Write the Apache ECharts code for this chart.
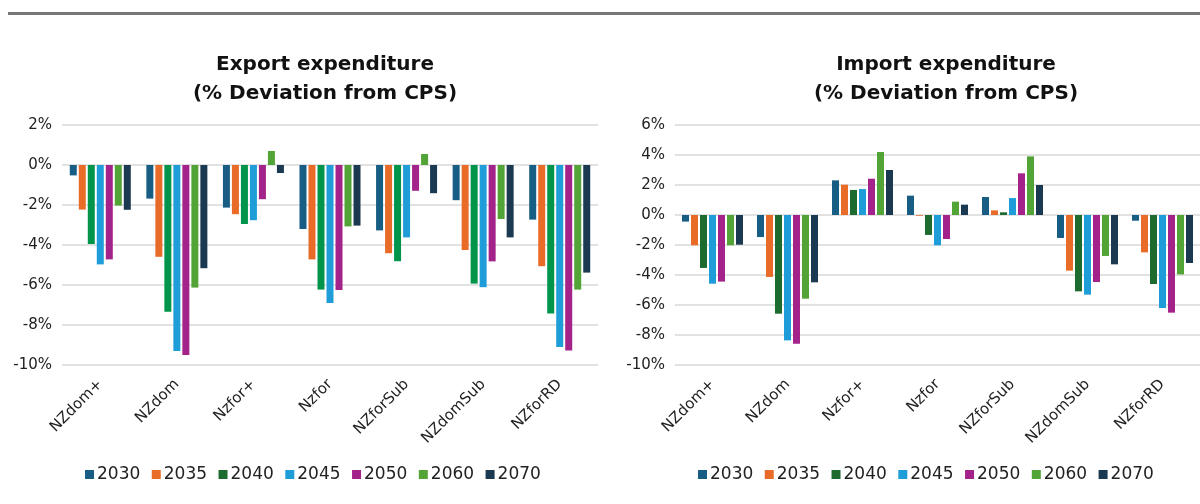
<!DOCTYPE html>
<html><head><meta charset="utf-8">
<script src="https://cdn.jsdelivr.net/npm/echarts@6/dist/echarts.min.js"></script>
<style>html,body{margin:0;padding:0;background:#fff}#c{width:1200px;height:504px}</style>
</head><body><div id="c"></div>
<script>
const categories = ['NZdom+','NZdom','Nzfor+','Nzfor','NZforSub','NZdomSub','NZforRD'];
const years = ['2030','2035','2040','2045','2050','2060','2070'];

// Export expenditure (% deviation from CPS), one array per year, values per category
const export2030 = [-0.52,-1.68,-2.13,-3.20,-3.27,-1.76,-2.73];
const export2035 = [-2.23,-4.59,-2.46,-4.72,-4.41,-4.25,-5.06];
const export2040 = [-3.95,-7.34,-2.95,-6.23,-4.81,-5.93,-7.42];
const export2045 = [-4.97,-9.30,-2.76,-6.90,-3.62,-6.11,-9.10];
const export2050 = [-4.72,-9.50,-1.71,-6.25,-1.29,-4.82,-9.28];
const export2060 = [-2.03,-6.13,0.70,-3.07,0.55,-2.70,-6.23];
const export2070 = [-2.24,-5.16,-0.40,-3.03,-1.41,-3.62,-5.38];

// Import expenditure (% deviation from CPS)
const import2030 = [-0.44,-1.47,2.31,1.29,1.20,-1.53,-0.38];
const import2035 = [-2.02,-4.13,2.02,-0.05,0.31,-3.71,-2.49];
const import2040 = [-3.53,-6.58,1.67,-1.33,0.18,-5.09,-4.60];
const import2045 = [-4.58,-8.36,1.73,-2.02,1.13,-5.31,-6.20];
const import2050 = [-4.44,-8.58,2.42,-1.60,2.78,-4.47,-6.51];
const import2060 = [-2.02,-5.58,4.20,0.89,3.91,-2.73,-3.96];
const import2070 = [-1.98,-4.49,3.00,0.69,2.00,-3.29,-3.20];

// Axis ticks
const exportTicks = {min: -10, max: 2, interval: 2};
const importTicks = {min: -10, max: 6, interval: 2};

const exportSeriesData = [export2030, export2035, export2040, export2045, export2050, export2060, export2070];
const importSeriesData = [import2030, import2035, import2040, import2045, import2050, import2060, import2070];

const exportColors = ['#175D84','#E86C27','#00954A','#1F9DD8','#A4238A','#53A436','#1B3A52'];
const importColors = ['#175D84','#E86C27','#1E6B30','#1F9DD8','#A4238A','#53A436','#1B3A52'];
const legendColors = ['#175D84','#E86C27','#1E6B30','#1F9DD8','#A4238A','#53A436','#1B3A52'];

const FONT = 'DejaVu Sans';
const chart = echarts.init(document.getElementById('c'), null, {renderer: 'canvas'});

function xAxis(gridIndex) {
  return {
    type: 'category', gridIndex, data: categories,
    axisLine: {show: false, onZero: false}, axisTick: {show: false},
    axisLabel: {rotate: 45, interval: 0, margin: 17, color: '#222', fontFamily: FONT, fontSize: 15}
  };
}
function yAxis(gridIndex, t) {
  return {
    type: 'value', gridIndex, min: t.min, max: t.max, interval: t.interval,
    axisLine: {show: false}, axisTick: {show: false},
    axisLabel: {formatter: v => v + '%', color: '#222', fontFamily: FONT, fontSize: 15, margin: 10},
    splitLine: {lineStyle: {color: '#e2e2e2', width: 2}}
  };
}
const series = [];
years.forEach((y, i) => {
  series.push({name: y, type: 'bar', xAxisIndex: 0, yAxisIndex: 0, data: exportSeriesData[i],
    barWidth: 7, barGap: '28.6%', itemStyle: {color: exportColors[i]}});
});
years.forEach((y, i) => {
  series.push({name: y, type: 'bar', xAxisIndex: 1, yAxisIndex: 1, data: importSeriesData[i],
    barWidth: 7, barGap: '28.6%', itemStyle: {color: importColors[i]}});
});
const legendData = years.map((y, i) => ({name: y, itemStyle: {color: legendColors[i]}}));
function legend(left) {
  return {left, top: 461, data: legendData, icon: 'rect', itemWidth: 9, itemHeight: 9, itemGap: 11.5,
    textStyle: {color: '#222', fontFamily: FONT, fontSize: 17, padding: [0,0,0,-2]}, selectedMode: false};
}
function title(text, left) {
  return {text, left, top: 45, textAlign: 'center',
    textStyle: {fontFamily: FONT, fontWeight: 'bold', fontSize: 20, lineHeight: 29, color: '#111'}};
}
chart.setOption({
  animation: false,
  title: [title('Export expenditure\n(% Deviation from CPS)', 320), title('Import expenditure\n(% Deviation from CPS)', 941)],
  legend: [legend(80), legend(693)],
  grid: [
    {left: 62, top: 125, width: 536, height: 240},
    {left: 675, top: 125, width: 536, height: 240}
  ],
  xAxis: [xAxis(0), xAxis(1)],
  yAxis: [yAxis(0, exportTicks), yAxis(1, importTicks)],
  graphic: [{type: 'rect', shape: {x: 8, y: 12, width: 1192, height: 3}, style: {fill: '#777'}}],
  series
});
</script></body></html>
